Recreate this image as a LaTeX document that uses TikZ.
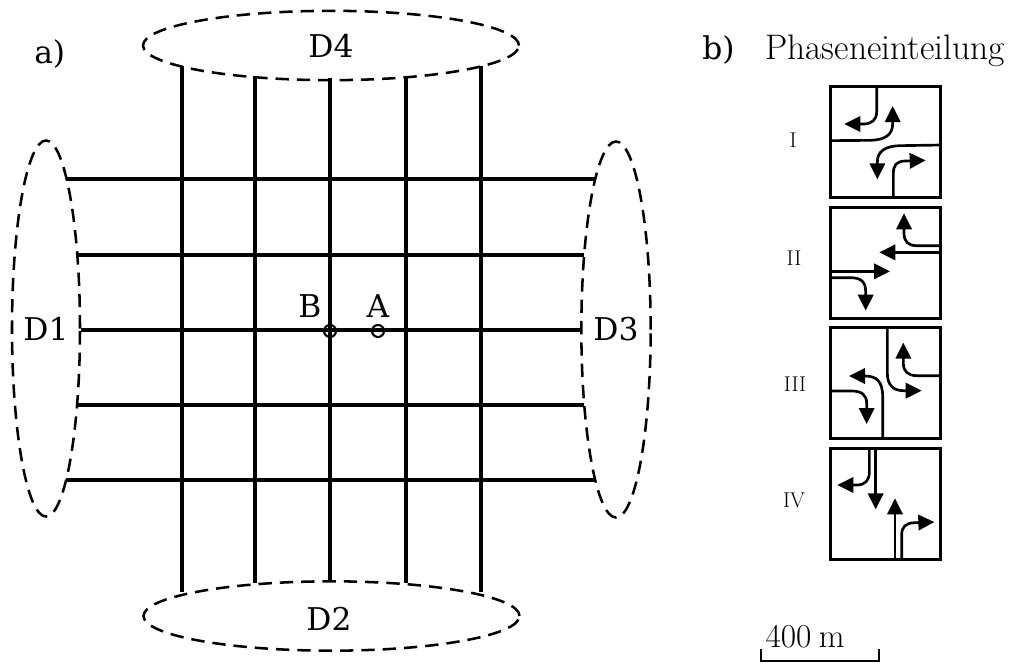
\documentclass[tikz,border=0pt]{standalone}
\usepackage{fontspec}
\newfontfamily\dvs{DejaVu Serif}
\usetikzlibrary{shapes.geometric,arrows.meta}
\tikzset{
  x=0.75pt,y=-0.75pt,
  district/.style={ellipse,draw,dashed,dash pattern=on 10pt off 6pt,line width=1.9pt,inner sep=0pt,font=\dvs\fontsize{23.5}{26}\selectfont},
  road/.style={line width=3.4pt},
  probe/.style={circle,draw,line width=1.6pt,minimum size=9pt,inner sep=0pt},
  biglabel/.style={inner sep=0pt,font=\dvs\fontsize{23.5}{26}\selectfont},
  panelbox/.style={draw,line width=2.4pt,minimum width=83pt,minimum height=83pt,inner sep=0pt},
  phase/.style={inner sep=0pt,font=\fontsize{16}{18}\selectfont},
  flow/.style={line width=2pt,-{Triangle[length=12pt,width=11.5pt]}},
  scalebar/.style={line width=1.9pt},
  zoomA/.style={shift={(760,70)},x=0.25pt,y=-0.25pt},
  zoomB/.style={shift={(760,320)},x=0.25pt,y=-0.25pt},
}
\begin{document}
\begin{tikzpicture}
\useasboundingbox (0,0) rectangle (1009,664);
\node[district,minimum width=282pt,minimum height=52pt] (D4) at (331,45.5) {D4};
\node[district,minimum width=282pt,minimum height=52pt] (D2) at (331.5,616) {};
\node[biglabel] (D2text) at (329,619) {D2};
\node[district,minimum width=51pt,minimum height=282pt] (D1) at (46,328.5) {D1};
\node[district,minimum width=52pt,minimum height=282pt] (D3) at (616,329.5) {D3};
% roads
\foreach \n/\y/\a/\b in {1/179/66/595,2/255/78/584,3/330/81/582,4/405/78/584,5/480/66/595}{
  \coordinate (hl\n) at (\a,\y);
  \coordinate (hr\n) at (\b,\y);
  \draw[road] (hl\n) -- (hr\n);
}
\foreach \n/\x/\a/\b in {1/182/66/592,2/255/76/583,3/330/78/581,4/406/76/583,5/481/66/592}{
  \coordinate (vt\n) at (\x,\a);
  \coordinate (vb\n) at (\x,\b);
  \draw[road] (vt\n) -- (vb\n);
}
\node[probe] (B) at (330,331) {};
\node[probe] (A) at (378,331) {};
\node[biglabel] (labB) at (310,306) {B};
\node[biglabel] (labA) at (378,306) {A};
\node[biglabel,anchor=base west] (la) at (34,63) {a)};
\node[biglabel,anchor=base west] (lb) at (702,59) {b)};
\node[inner sep=0pt,anchor=base west,font=\fontsize{26.6}{30}\selectfont] (title) at (765,59) {Phaseneinteilung};
% panels
\node[panelbox] (P1) at (885.5,142) {};
\node[panelbox] (P2) at (885.5,263) {};
\node[panelbox] (P3) at (885.5,383) {};
\node[panelbox] (P4) at (885.5,504) {};
\node[phase] (p1) at (793,140) {I};
\node[phase] (p2) at (794,258) {II};
\node[phase] (p3) at (795,384) {III};
\node[phase] (p4) at (794,500) {IV};
\begin{scope}[zoomA]
 \draw[flow] (350,47) -- (350,125) .. controls (350,150) and (335,162) .. (310,162) -- (253,162);
 \draw[flow] (207,212) -- (330,211) .. controls (375,210) and (398,195) .. (398,160) -- (398,108);
 \draw[flow] (545,225) -- (420,227) .. controls (375,228) and (352,245) .. (352,275) -- (352,328);
 \draw[flow] (400,385) -- (400,310) .. controls (400,285) and (410,274) .. (435,273) -- (497,271);
 \draw[flow] (545,527) -- (470,527) .. controls (445,527) and (432,515) .. (432,490) -- (432,430);
 \draw[flow] (545,547) -- (358,547);
 \draw[flow] (207,604) -- (390,604);
 \draw[flow] (207,623) -- (270,623) .. controls (303,623) and (317,635) .. (317,665) -- (317,722);
\end{scope}
\begin{scope}[zoomB]
 \draw[flow] (382,22) -- (382,160) .. controls (382,195) and (400,212) .. (430,212) -- (485,212);
 \draw[flow] (545,167) -- (470,167) .. controls (445,167) and (430,155) .. (430,130) -- (430,68);
 \draw[flow] (368,358) -- (368,230) .. controls (368,185) and (350,168) .. (315,168) -- (267,168);
 \draw[flow] (207,213) -- (275,213) .. controls (305,213) and (320,225) .. (320,250) -- (320,312);
 \draw[flow] (328,384) -- (328,455) .. controls (328,482) and (315,495) .. (290,495) -- (232,495);
 \draw[flow] (347,384) -- (347,568);
 \draw[flow] (405,720) -- (405,535);
 \draw[flow] (425,720) -- (425,645) .. controls (425,620) and (437,609) .. (465,608) -- (523,606);
\end{scope}
% scale
\node[inner sep=0pt,anchor=base,font=\fontsize{25}{28}\selectfont] (scale) at (805,647) {400\kern0.22em m};
\coordinate (s1) at (761,649);
\coordinate (s2) at (761,661);
\coordinate (s3) at (879,661);
\coordinate (s4) at (879,649);
\draw[scalebar] (s1) -- (s2) -- (s3) -- (s4);
\end{tikzpicture}
\end{document}
